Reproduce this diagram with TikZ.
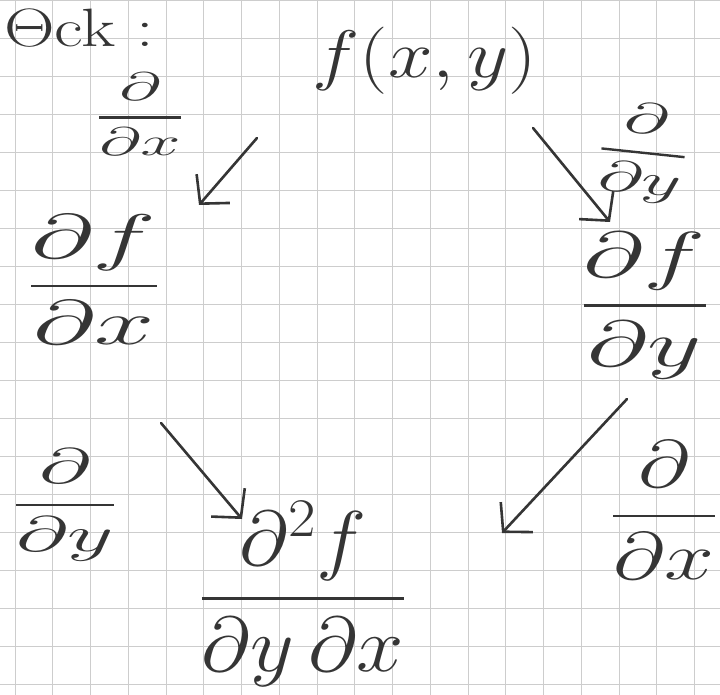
\RequirePackage{fix-cm}
\documentclass[tikz,border=0pt]{standalone}
\usepackage{graphicx}
\usepackage{amsmath}
\usetikzlibrary{arrows.meta}
\definecolor{inkc}{HTML}{353535}
\definecolor{gridc}{HTML}{CDCDCD}
\newcommand\hw[4]{{\fontsize{#1}{#1}\selectfont\scalebox{#2}[#3]{$\displaystyle #4$}}}
\newcommand\fr[2]{\genfrac{}{}{2.4pt}{0}{#1}{#2}}
\begin{document}
\begin{tikzpicture}[x=1pt,y=-1pt,
  gridline/.style={draw=gridc, line width=0.9pt},
  lbl/.style={text=inkc, inner sep=0pt},
  arr/.style={draw=inkc, line width=2.6pt, line cap=round, line join=round,
    -{Straight Barb[length=20pt,width=44pt,line width=2.6pt]}}]
\useasboundingbox (0,0) rectangle (720,695);
\fill[white] (0,0) rectangle (720,695);
% grid paper
\foreach \k in {0,...,18} \draw[gridline] ({15+37.75*\k},0) -- ({15+37.75*\k},695);
\foreach \k in {0,...,18} \draw[gridline] (0,{0.5+38*\k}) -- (720,{0.5+38*\k});
% texts
\node[lbl, anchor=west] (chk) at (4,28) {\fontsize{54}{54}\selectfont\scalebox{1.3}[1]{$\Theta$ck :}};
\node[lbl] (fxy) at (425,61) {\hw{64}{1.25}{1.05}{f(x,y)}};
\node[lbl] (ddxA) at (140,114) {\hw{38}{1.9}{1.05}{\fr{\partial}{\partial x}}};
\node[lbl] (dfdx) at (94,280) {\hw{60}{1.8}{1.05}{\fr{\partial f}{\partial x}}};
\node[lbl, rotate=-6] (ddyA) at (643,153) {\hw{44}{1.75}{1.0}{\fr{\partial}{\partial y}}};
\node[lbl] (dfdy) at (645,306) {\hw{62}{1.7}{1.05}{\fr{\partial f}{\partial y}}};
\node[lbl] (ddxB) at (664,510) {\hw{64}{1.4}{1.05}{\fr{\partial}{\partial x}}};
\node[lbl] (ddyB) at (65,505) {\hw{50}{1.8}{1.0}{\fr{\partial}{\partial y}}};
\node[lbl] (d2f) at (303,594) {\hw{74}{1.15}{1.05}{\fr{\partial^2 f}{\partial y\,\partial x}}};
% arrow end points
\coordinate (a1s) at (257,138); \coordinate (a1e) at (199,205);
\coordinate (a2s) at (533,128); \coordinate (a2e) at (610,222);
\coordinate (a3s) at (627,399); \coordinate (a3e) at (502,533);
\coordinate (a4s) at (161,423); \coordinate (a4e) at (242,519);
\draw[arr] (a1s) -- (a1e);
\draw[arr] (a2s) -- (a2e);
\draw[arr] (a3s) -- (a3e);
\draw[arr] (a4s) -- (a4e);
\end{tikzpicture}
\end{document}
